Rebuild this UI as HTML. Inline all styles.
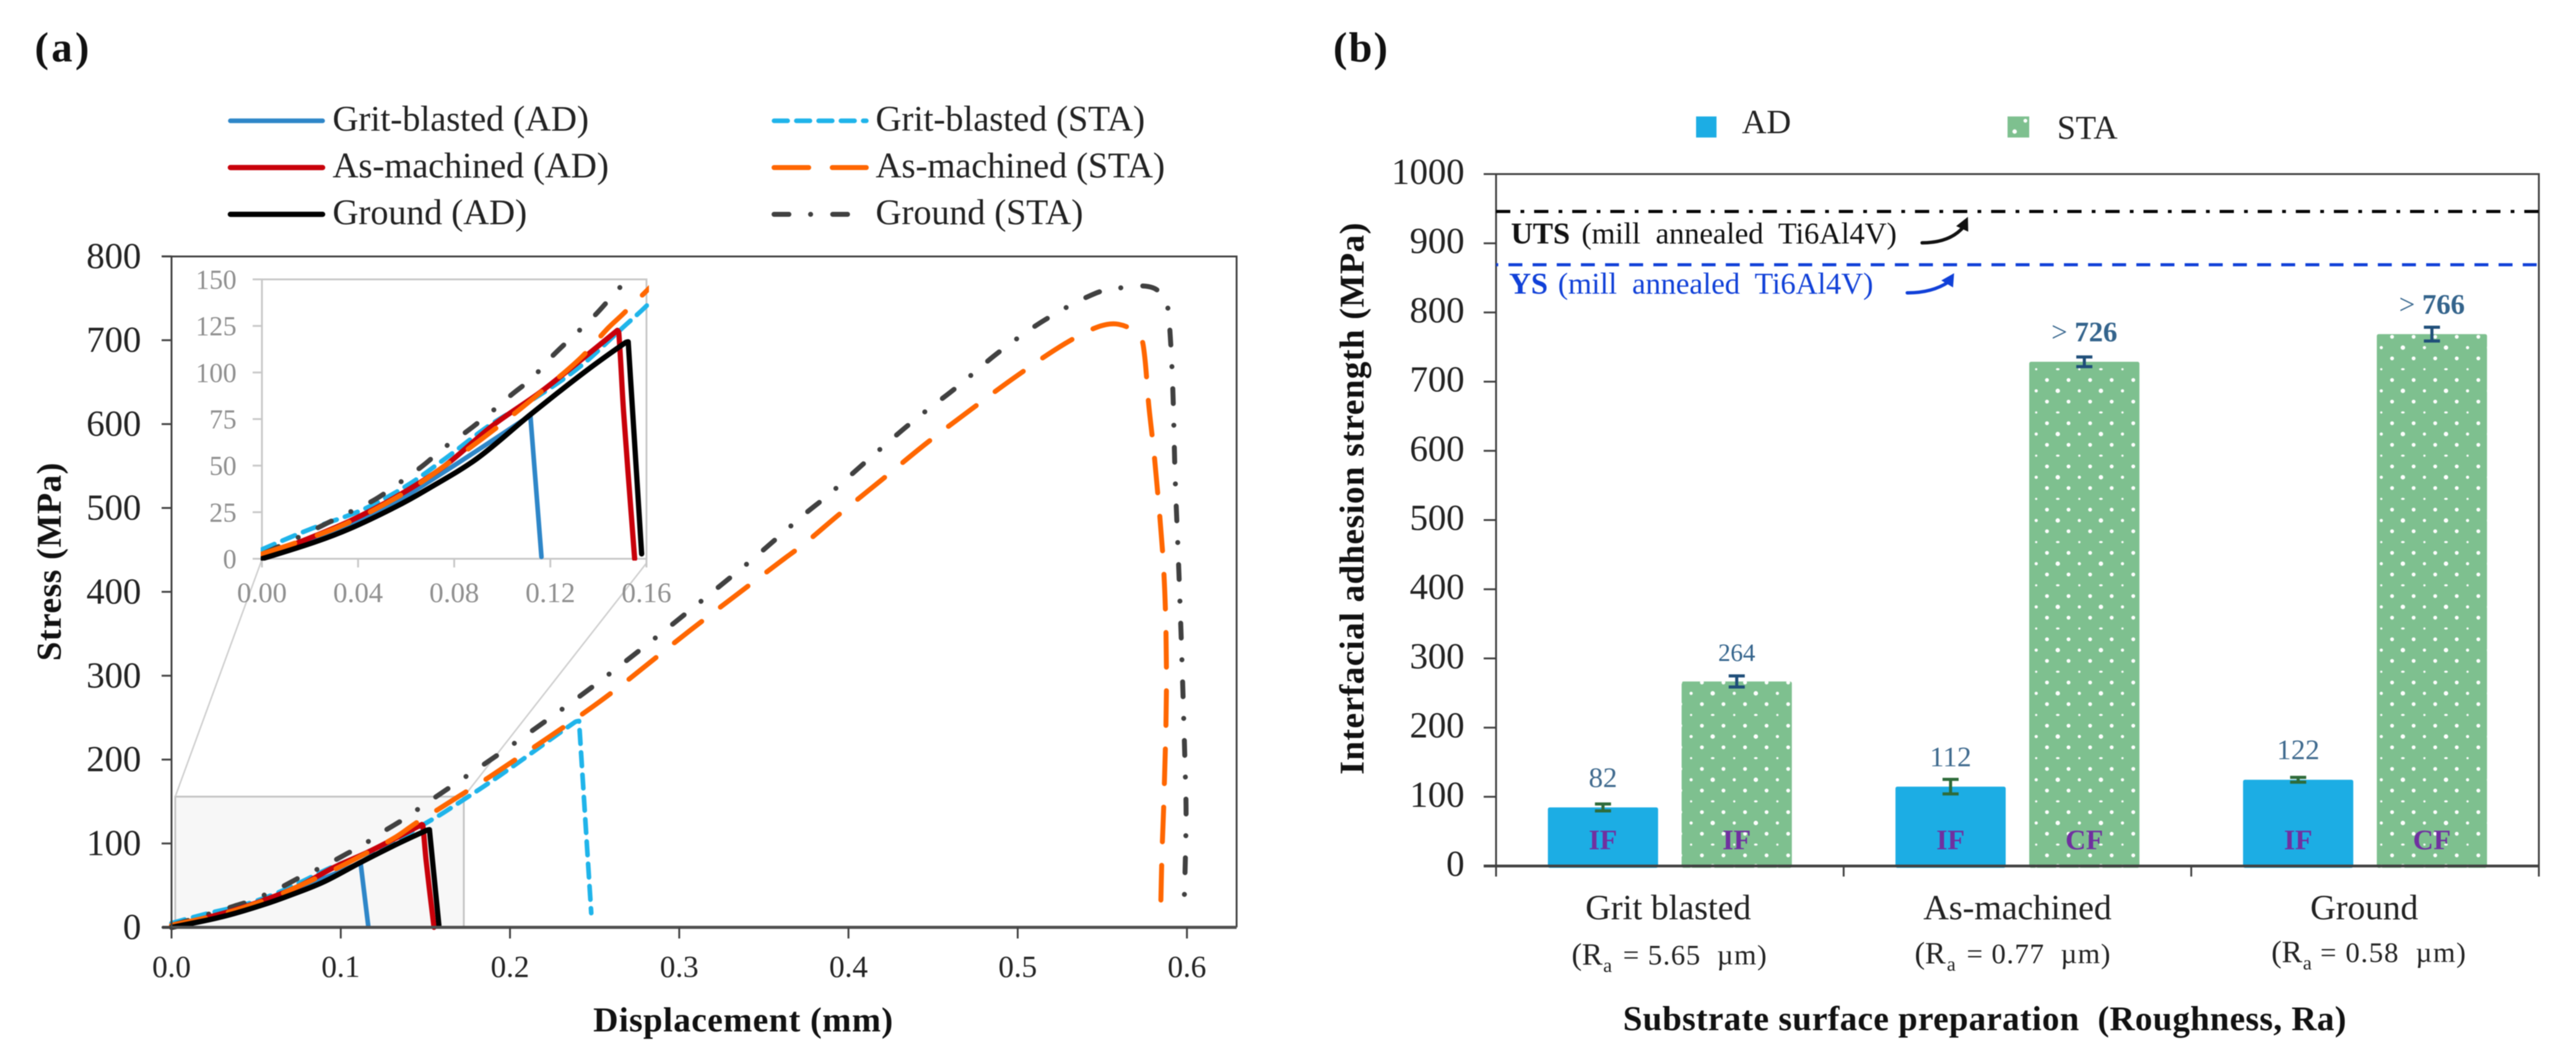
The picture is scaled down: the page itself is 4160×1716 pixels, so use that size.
<!DOCTYPE html>
<html lang="en">
<head>
<meta charset="utf-8">
<title>Stress-displacement curves and interfacial adhesion strength</title>
<style>
html,body{margin:0;padding:0;background:#fff;}
svg{display:block;filter:blur(0.9px);}
text{font-family:"Liberation Serif","Times New Roman",serif;white-space:pre;}
</style>
</head>
<body>
<svg id="fig" xmlns="http://www.w3.org/2000/svg" width="4160" height="1716" viewBox="0 0 4160 1716">
<defs>
<pattern id="dots" patternUnits="userSpaceOnUse" x="2731" y="1189" width="69.66" height="69.76">
<rect width="69.66" height="69.76" fill="#7ec08f"/>
<circle cx="0" cy="0" r="2.6" fill="#fff"/><circle cx="69.66" cy="0" r="2.6" fill="#fff"/><circle cx="0" cy="69.76" r="2.6" fill="#fff"/><circle cx="69.66" cy="69.76" r="2.6" fill="#fff"/>
<circle cx="34.83" cy="0" r="3.6" fill="#fff"/><circle cx="34.83" cy="69.76" r="3.6" fill="#fff"/>
<circle cx="17.4" cy="17.44" r="3.1" fill="#fff"/><circle cx="52.2" cy="17.44" r="3.1" fill="#fff"/>
<circle cx="0" cy="34.88" r="1.8" fill="#fff"/><circle cx="69.66" cy="34.88" r="1.8" fill="#fff"/>
<ellipse cx="34.83" cy="34.88" rx="3" ry="1.8" fill="#fff"/>
<circle cx="17.4" cy="52.32" r="3.1" fill="#fff"/><circle cx="52.2" cy="52.32" r="3.1" fill="#fff"/>
</pattern>
<clipPath id="inset-clip"><rect x="421" y="449" width="627" height="456"/></clipPath>
</defs>

<g id="panel-a">
<text x="56" y="99" font-size="68" font-weight="700" textLength="88" fill="#111">(a)</text>
<g id="legend-a"></g>
<rect x="283" y="1286" width="466" height="211" fill="#f7f7f7" stroke="#c4c4c4" stroke-width="3"/>
<line x1="283" y1="1286" x2="422" y2="906" stroke="#cfcfcf" stroke-width="2.5"/>
<line x1="749" y1="1286" x2="1044" y2="909" stroke="#cfcfcf" stroke-width="2.5"/>
<g id="lines-main"></g>
<g id="axes-a"></g>
<rect x="423" y="451" width="621" height="451" fill="none" stroke="#c8c8c8" stroke-width="3"/>
<g id="axes-inset"></g>
<g id="lines-inset" clip-path="url(#inset-clip)"></g>
<text x="1200" y="1665" font-size="56" font-weight="700" text-anchor="middle" textLength="484" fill="#111">Displacement (mm)</text>
<text transform="translate(98,907) rotate(-90)" font-size="56" font-weight="700" text-anchor="middle" textLength="320" fill="#111">Stress (MPa)</text>
</g>

<g id="panel-b">
<text x="2153" y="99" font-size="68" font-weight="700" textLength="88" fill="#111">(b)</text>
<rect x="2739" y="188" width="33" height="34" fill="#1cade4"/>
<text x="2813" y="215" font-size="55" fill="#222">AD</text>
<rect x="3242" y="188" width="35" height="34" fill="url(#dots)"/>
<text x="3322" y="224" font-size="54" fill="#222">STA</text>
<g id="bars"></g>
<g id="axes-b"></g>

<text x="2440" y="393" font-size="49" font-weight="700" fill="#111">UTS</text>
<text x="2554" y="393" font-size="49" fill="#111">(mill  annealed  Ti6Al4V)</text>
<text x="2437" y="474" font-size="49" font-weight="700" fill="#1040d8">YS</text>
<text x="2516" y="474" font-size="49" fill="#1040d8">(mill  annealed  Ti6Al4V)</text>
<path d="M3104,392 Q3150,392 3172,365" fill="none" stroke="#111" stroke-width="5.5" stroke-linecap="round"/>
<polygon points="3178,350 3159,365 3178.5,374" fill="#111"/>
<path d="M3080,472.7 Q3120,473 3147,455" fill="none" stroke="#1040d8" stroke-width="5.5" stroke-linecap="round"/>
<polygon points="3155.7,441 3135,452.7 3154,464" fill="#1040d8"/>

<text x="2694" y="1484" font-size="57" text-anchor="middle" fill="#222">Grit blasted</text>
<text x="3258" y="1484" font-size="57" text-anchor="middle" fill="#222">As-machined</text>
<text x="3818" y="1484" font-size="57" text-anchor="middle" fill="#222">Ground</text>

<text x="2538" y="1557" font-size="50" fill="#222">(R</text>
<text x="2589" y="1569" font-size="32" fill="#222">a</text>
<text x="2621" y="1557" font-size="46" textLength="232" fill="#222">= 5.65  µm)</text>
<text x="3092" y="1555" font-size="50" fill="#222">(R</text>
<text x="3144" y="1567" font-size="32" fill="#222">a</text>
<text x="3176" y="1555" font-size="46" textLength="232" fill="#222">= 0.77  µm)</text>
<text x="3668" y="1553" font-size="50" fill="#222">(R</text>
<text x="3719" y="1565" font-size="32" fill="#222">a</text>
<text x="3747" y="1553" font-size="46" textLength="235" fill="#222">= 0.58  µm)</text>

<text x="3205" y="1663" font-size="56" font-weight="700" text-anchor="middle" textLength="1168" fill="#111">Substrate surface preparation  (Roughness, Ra)</text>
<text transform="translate(2202,805) rotate(-90)" font-size="56" font-weight="700" text-anchor="middle" textLength="891" fill="#111">Interfacial adhesion strength (MPa)</text>
</g>
</svg>

<script>
/* ---------- Panel (a): displacement (mm) and stress (MPa) ---------- */
const gritAdX = [0, 0.0223, 0.0368, 0.0552, 0.0684, 0.0894, 0.1117, 0.1163];
const gritAdY = [0.5, 10, 17.5, 30, 40.5, 58, 77, 1];
const gritStaX = [0, 0.0197, 0.042, 0.0605, 0.0762, 0.0946, 0.1157, 0.1328, 0.1499, 0.161, 0.1947, 0.2384, 0.2408, 0.248];
const gritStaY = [5, 15.7, 26.4, 39.4, 53.7, 71.5, 88, 103.6, 123.8, 137, 182, 244.7, 246, 17];
const machinedAdX = [0, 0.0171, 0.0368, 0.0578, 0.0762, 0.096, 0.1157, 0.134, 0.1479, 0.1485, 0.1505, 0.1551];
const machinedAdY = [1.4, 9.7, 20.4, 34.7, 50, 71.5, 89.3, 108, 122.6, 121.4, 78.6, 0];
const machinedStaX = [0, 0.0316, 0.0592, 0.0789, 0.0973, 0.117, 0.1328, 0.144, 0.1499, 0.161, 0.168, 0.1899, 0.2529, 0.3064, 0.3597, 0.3743, 0.3937, 0.4199, 0.446, 0.4728, 0.4998, 0.528, 0.5476, 0.5596, 0.5714, 0.5744, 0.5774, 0.581, 0.5864, 0.5879, 0.5864, 0.5852, 0.5844];
const machinedStaY = [2.6, 16.9, 35.3, 52.5, 70, 90.5, 108, 123.8, 131, 145, 154, 182, 269, 354, 436, 458, 491, 534, 577, 618, 658, 696, 716, 719, 707, 691, 623.6, 556, 422, 292, 152, 85, 12];
const groundAdX = [0, 0.0223, 0.0368, 0.0552, 0.0684, 0.0894, 0.1117, 0.134, 0.1512, 0.1524, 0.158];
const groundAdY = [0, 9.1, 16.3, 27.6, 37, 53.7, 77.4, 100, 116, 116.5, 2.6];
const groundStaX = [0.0013, 0.016, 0.0263, 0.0365, 0.0473, 0.0575, 0.067, 0.0762, 0.0854, 0.0947, 0.1038, 0.1124, 0.121, 0.138, 0.1485, 0.202, 0.258, 0.338, 0.3743, 0.3878, 0.413, 0.4385, 0.464, 0.489, 0.5163, 0.546, 0.561, 0.58, 0.588, 0.59, 0.5917, 0.593, 0.595, 0.5968, 0.5988, 0.5995, 0.5983];
const groundStaY = [3.2, 12, 18.6, 25, 32, 41, 50, 60, 68.5, 78, 88, 97, 109, 130, 145, 218.6, 301, 430, 493, 515, 560, 604, 644, 686, 724.5, 756, 762.5, 762.5, 743, 709, 639, 538, 437, 333, 199, 131, 27];
const stressTicks = [0, 100, 200, 300, 400, 500, 600, 700, 800];
const displacementTicks = [0, 0.1, 0.2, 0.3, 0.4, 0.5, 0.6];
const displacementLabels = ['0.0', '0.1', '0.2', '0.3', '0.4', '0.5', '0.6'];
const insetStressTicks = [0, 25, 50, 75, 100, 125, 150];
const insetDisplacementTicks = [0, 0.04, 0.08, 0.12, 0.16];
const insetDisplacementLabels = ['0.00', '0.04', '0.08', '0.12', '0.16'];
const legendNames = ['Grit-blasted (AD)', 'As-machined (AD)', 'Ground (AD)', 'Grit-blasted (STA)', 'As-machined (STA)', 'Ground (STA)'];

/* ---------- Panel (b): strengths (MPa) ---------- */
const categories = ['Grit blasted', 'As-machined', 'Ground'];
const adValues = [82, 112, 122];
const staValues = [264, 726, 766];
const adErrors = [5, 10.5, 3.5];
const staErrors = [8, 7, 10];
const adFailure = ['IF', 'IF', 'IF'];
const staFailure = ['IF', 'CF', 'CF'];
const adLabels = ['82', '112', '122'];
const staLabels = ['264', '726', '766'];
const staLabelPrefix = ['', '> ', '> '];
const strengthTicks = [0, 100, 200, 300, 400, 500, 600, 700, 800, 900, 1000];
const utsValue = [946];
const ysValue = [869];

const NS = 'http://www.w3.org/2000/svg';
function el(parent, tag, attrs, txt) {
  const e = document.createElementNS(NS, tag);
  for (const k in attrs) e.setAttribute(k, attrs[k]);
  if (txt !== undefined) e.textContent = txt;
  parent.appendChild(e);
  return e;
}
const $ = id => document.getElementById(id);

/* axis functions */
const xMain = d => 277 + 2733 * d;
const yMain = s => 1497 - 1.354 * s;
const xInset = d => 423 + 3881 * d;
const yInset = s => 902 - 3.007 * s;
const yBar = v => 1398 - 1.117 * v;
const barTop = v => yBar(v) - 3;
const catCenter = i => 2416 + 561.33 * (i + 0.5);

const lineStyles = {
  gritAd: {stroke: '#2e86c8', width: 7.5, dash: ''},
  gritSta: {stroke: '#1fb4ea', width: 7.5, dash: '22 14'},
  groundSta: {stroke: '#404040', width: 8, dash: '24 35 0.1 35.6'},
  machinedAd: {stroke: '#c8000a', width: 8.5, dash: ''},
  machinedSta: {stroke: '#ff6600', width: 8, dash: '56 38'},
  groundAd: {stroke: '#000000', width: 8.5, dash: ''}
};

/* smooth path through the data points; sharp corners (failure drops) stay sharp */
function pathFrom(xs, ys, fx, fy) {
  const pts = xs.map((x, i) => [fx(x), fy(ys[i])]);
  const n = pts.length;
  const dir = pts.map((p, i) => {
    if (i === 0 || i === n - 1) return null;
    const a = [p[0] - pts[i - 1][0], p[1] - pts[i - 1][1]];
    const b = [pts[i + 1][0] - p[0], pts[i + 1][1] - p[1]];
    const la = Math.hypot(a[0], a[1]) || 1;
    const lb = Math.hypot(b[0], b[1]) || 1;
    if ((a[0] * b[0] + a[1] * b[1]) / (la * lb) < 0.6) return null;
    const c = [pts[i + 1][0] - pts[i - 1][0], pts[i + 1][1] - pts[i - 1][1]];
    const lc = Math.hypot(c[0], c[1]) || 1;
    return [c[0] / lc, c[1] / lc];
  });
  let d = 'M' + pts[0][0].toFixed(1) + ',' + pts[0][1].toFixed(1);
  for (let i = 0; i < n - 1; i++) {
    const p = pts[i], q = pts[i + 1];
    const h = Math.hypot(q[0] - p[0], q[1] - p[1]) / 3;
    const c1 = dir[i] ? [p[0] + dir[i][0] * h, p[1] + dir[i][1] * h] : p;
    const c2 = dir[i + 1] ? [q[0] - dir[i + 1][0] * h, q[1] - dir[i + 1][1] * h] : q;
    d += ' C' + c1[0].toFixed(1) + ',' + c1[1].toFixed(1) + ' ' + c2[0].toFixed(1) + ',' + c2[1].toFixed(1) + ' ' + q[0].toFixed(1) + ',' + q[1].toFixed(1);
  }
  return d;
}
function styleAttrs(st) {
  const a = {fill: 'none', stroke: st.stroke, 'stroke-width': st.width, 'stroke-linecap': 'round', 'stroke-linejoin': 'round'};
  if (st.dash) a['stroke-dasharray'] = st.dash;
  return a;
}
function drawCurves(parent, fx, fy) {
  let p;
  p = el(parent, 'path', Object.assign({d: pathFrom(gritAdX, gritAdY, fx, fy)}, styleAttrs(lineStyles.gritAd)));
  
  
  p = el(parent, 'path', Object.assign({d: pathFrom(gritStaX, gritStaY, fx, fy)}, styleAttrs(lineStyles.gritSta)));
  
  
  p = el(parent, 'path', Object.assign({d: pathFrom(groundStaX, groundStaY, fx, fy)}, styleAttrs(lineStyles.groundSta)));
  
  
  p = el(parent, 'path', Object.assign({d: pathFrom(machinedAdX, machinedAdY, fx, fy)}, styleAttrs(lineStyles.machinedAd)));
  
  
  p = el(parent, 'path', Object.assign({d: pathFrom(machinedStaX, machinedStaY, fx, fy)}, styleAttrs(lineStyles.machinedSta)));
  
  
  p = el(parent, 'path', Object.assign({d: pathFrom(groundAdX, groundAdY, fx, fy)}, styleAttrs(lineStyles.groundAd)));
  
  
}
drawCurves($('lines-main'), xMain, yMain);
drawCurves($('lines-inset'), xInset, yInset);

/* legend (a) */
const legendOrder = [lineStyles.gritAd, lineStyles.machinedAd, lineStyles.groundAd, lineStyles.gritSta, lineStyles.machinedSta, lineStyles.groundSta];
legendNames.forEach((name, i) => {
  const col = i < 3 ? 0 : 1;
  const row = i % 3;
  const lx = col ? 1247 : 369;
  const ly = 195 + row * 75.5;
  const sample = el($('legend-a'), 'line', Object.assign({x1: lx + 3, y1: ly, x2: lx + 152, y2: ly}, styleAttrs(legendOrder[i])));
  
  
  const label = el($('legend-a'), 'text', {x: col ? 1414 : 537, y: ly + 16, 'font-size': 58, fill: '#222'}, name);
  
  
});

/* axes (a) */
const axA = $('axes-a');
const frameA = el(axA, 'path', {d: 'M262,414 H1997 V1497 M277,414 V1515', fill: 'none', stroke: '#404040', 'stroke-width': 3});


const baseA = el(axA, 'line', {x1: 262, y1: 1497, x2: 1997, y2: 1497, stroke: '#505050', 'stroke-width': 5});


stressTicks.forEach(v => {
  const t = el(axA, 'line', {x1: 261, x2: 277, y1: yMain(v), y2: yMain(v), stroke: '#404040', 'stroke-width': 3});
  
  
  const l = el(axA, 'text', {x: 228, y: yMain(v) + 19, 'font-size': 59, 'text-anchor': 'end', fill: '#222'}, String(v));
  
  
});
displacementTicks.forEach((v, i) => {
  const t = el(axA, 'line', {x1: xMain(v), x2: xMain(v), y1: 1497, y2: 1515, stroke: '#404040', 'stroke-width': 3});
  
  
  const l = el(axA, 'text', {x: xMain(v), y: 1577, 'font-size': 50, 'text-anchor': 'middle', fill: '#222'}, displacementLabels[i]);
  
  
});

/* axes (inset) */
const axI = $('axes-inset');
insetStressTicks.forEach(v => {
  const t = el(axI, 'line', {x1: 408, x2: 423, y1: yInset(v), y2: yInset(v), stroke: '#c8c8c8', 'stroke-width': 3});
  
  
  const l = el(axI, 'text', {x: 382, y: yInset(v) + 15, 'font-size': 44, 'text-anchor': 'end', fill: '#8f8f8f'}, String(v));
  
  
});
insetDisplacementTicks.forEach((v, i) => {
  const t = el(axI, 'line', {x1: xInset(v), x2: xInset(v), y1: 902, y2: 916, stroke: '#c8c8c8', 'stroke-width': 3});
  
  
  const l = el(axI, 'text', {x: xInset(v), y: 972, 'font-size': 46, 'text-anchor': 'middle', fill: '#8f8f8f'}, insetDisplacementLabels[i]);
  
  
});

/* bars (b) */
const barsG = $('bars');
const BAR_W = 178;
const BAR_BOTTOM = 1401;
categories.forEach((cat, i) => {
  const cx = catCenter(i);
  const adX = cx - 108;
  const staX = cx + 108;

  const adBar = el(barsG, 'rect', {x: adX - BAR_W / 2, y: barTop(adValues[i]), width: BAR_W, height: BAR_BOTTOM - barTop(adValues[i]), rx: 3, fill: '#1cade4'});
  
  
  const staBar = el(barsG, 'rect', {x: staX - BAR_W / 2, y: barTop(staValues[i]), width: BAR_W, height: BAR_BOTTOM - barTop(staValues[i]), rx: 3, fill: 'url(#dots)'});
  
  

  const adErr = el(barsG, 'path', {
    d: 'M' + (adX - 13) + ',' + barTop(adValues[i] + adErrors[i]) + ' h26 M' + adX + ',' + barTop(adValues[i] + adErrors[i]) + ' V' + barTop(adValues[i] - adErrors[i]) + ' M' + (adX - 13) + ',' + barTop(adValues[i] - adErrors[i]) + ' h26',
    fill: 'none', stroke: '#2e6b3a', 'stroke-width': 5});
  
  
  const staErr = el(barsG, 'path', {
    d: 'M' + (staX - 13) + ',' + barTop(staValues[i] + staErrors[i]) + ' h26 M' + staX + ',' + barTop(staValues[i] + staErrors[i]) + ' V' + barTop(staValues[i] - staErrors[i]) + ' M' + (staX - 13) + ',' + barTop(staValues[i] - staErrors[i]) + ' h26',
    fill: 'none', stroke: '#1f4e79', 'stroke-width': 5});
  
  

  const adVal = el(barsG, 'text', {x: adX, y: barTop(adValues[i]) - 33, 'font-size': 46, 'text-anchor': 'middle', fill: '#3f6a8e'}, adLabels[i]);
  
  
  const bold = staLabelPrefix[i] !== '';
  const staVal = el(barsG, 'text', {x: staX, y: barTop(staValues[i]) - 33, 'font-size': bold ? 46 : 40, 'text-anchor': 'middle', fill: '#34648c'});
  
  
  if (bold) el(staVal, 'tspan', {}, staLabelPrefix[i]);
  el(staVal, 'tspan', bold ? {'font-weight': 700} : {}, staLabels[i]);

  const adF = el(barsG, 'text', {x: adX, y: 1371, 'font-size': 46, 'font-weight': 700, 'text-anchor': 'middle', fill: '#7030a0'}, adFailure[i]);
  
  
  const staF = el(barsG, 'text', {x: staX, y: 1371, 'font-size': 46, 'font-weight': 700, 'text-anchor': 'middle', fill: '#7030a0'}, staFailure[i]);
  
  
});

/* axes (b) */
const axB = $('axes-b');
const frameB = el(axB, 'path', {d: 'M2396,281 H4100 V1415 M2416,281 V1415', fill: 'none', stroke: '#404040', 'stroke-width': 3});


const baseB = el(axB, 'line', {x1: 2396, y1: 1398, x2: 4100, y2: 1398, stroke: '#404040', 'stroke-width': 4.5});


strengthTicks.forEach(v => {
  const t = el(axB, 'line', {x1: 2396, x2: 2416, y1: yBar(v), y2: yBar(v), stroke: '#404040', 'stroke-width': 3});
  
  
  const l = el(axB, 'text', {x: 2365, y: yBar(v) + 16, 'font-size': 59, 'text-anchor': 'end', fill: '#222'}, String(v));
  
  
});
categories.forEach((c, i) => {
  const t = el(axB, 'line', {x1: catCenter(i) + 280.67, x2: catCenter(i) + 280.67, y1: 1398, y2: 1415, stroke: '#404040', 'stroke-width': 3});
  
  
});
const utsLine = el(axB, 'line', {x1: 2416, x2: 4100, y1: yBar(utsValue[0]), y2: yBar(utsValue[0]), stroke: '#000', 'stroke-width': 5, 'stroke-dasharray': '23 16.5 6 16'});


const ysLine = el(axB, 'line', {x1: 2416, x2: 4100, y1: yBar(ysValue[0]), y2: yBar(ysValue[0]), stroke: '#1040d8', 'stroke-width': 5, 'stroke-dasharray': '22.5 16.5', 'stroke-dashoffset': 19});


</script>
</body>
</html>
